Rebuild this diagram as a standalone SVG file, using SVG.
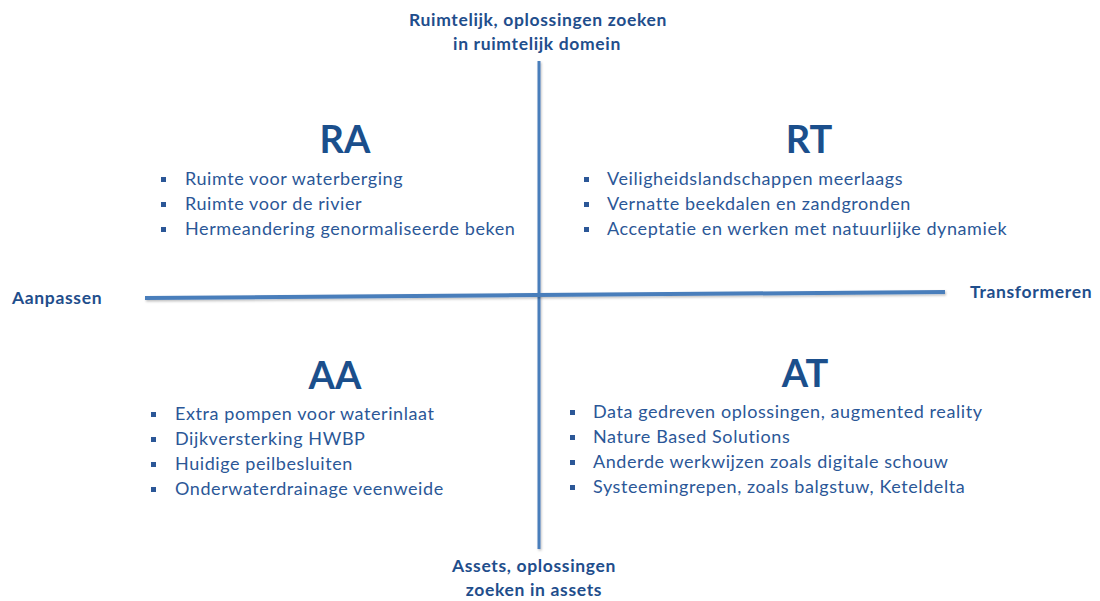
<svg xmlns="http://www.w3.org/2000/svg" width="1100" height="601" viewBox="0 0 1100 601">
<defs>
<style>
.axis-label{font-family:Lato,"Liberation Sans",sans-serif;font-weight:700;font-size:17.5px;letter-spacing:0.65px;fill:#1f4e8c}
.head{font-family:Lato,"Liberation Sans",sans-serif;font-weight:700;font-size:38px;fill:#1b4f8c;text-anchor:middle}
.item{font-family:Lato,"Liberation Sans",sans-serif;font-size:18px;letter-spacing:0.58px;fill:#2b5797}
.bullet{fill:#2b5797}
.axis{stroke:#4a7ebb;fill:none;stroke-linecap:butt}
</style>
<filter id="sh" filterUnits="userSpaceOnUse" x="0" y="0" width="1100" height="601">
<feDropShadow dx="1" dy="1.5" stdDeviation="1" flood-color="#000" flood-opacity="0.25"/>
</filter>
</defs>
<rect width="1100" height="601" fill="#ffffff"/>
<g id="connectors">
<line class="axis" x1="539" y1="61" x2="539" y2="549" stroke-width="3" filter="url(#sh)"/>
<line class="axis" x1="145" y1="298" x2="945" y2="292" stroke-width="4" filter="url(#sh)"/>
</g>
<g id="label-top">
<text class="axis-label" x="538" y="26" text-anchor="middle">Ruimtelijk, oplossingen zoeken</text>
<text class="axis-label" x="537" y="50" text-anchor="middle">in ruimtelijk domein</text>
</g>
<g id="label-bottom">
<text class="axis-label" x="534" y="572" text-anchor="middle">Assets, oplossingen</text>
<text class="axis-label" x="534" y="596" text-anchor="middle">zoeken in assets</text>
</g>
<g id="label-left">
<text class="axis-label" x="12" y="304">Aanpassen</text>
</g>
<g id="label-right">
<text class="axis-label" x="970" y="298">Transformeren</text>
</g>
<g id="RA">
<text class="head" x="345" y="153">RA</text>
<rect class="bullet" x="161" y="177" width="5" height="5"/>
<rect class="bullet" x="161" y="202" width="5" height="5"/>
<rect class="bullet" x="161" y="227" width="5" height="5"/>
<text class="item" x="185" y="185">Ruimte voor waterberging</text>
<text class="item" x="185" y="210">Ruimte voor de rivier</text>
<text class="item" x="185" y="235">Hermeandering genormaliseerde beken</text>
</g>
<g id="RT">
<text class="head" x="809" y="153">RT</text>
<rect class="bullet" x="584" y="177" width="5" height="5"/>
<rect class="bullet" x="584" y="202" width="5" height="5"/>
<rect class="bullet" x="584" y="227" width="5" height="5"/>
<text class="item" x="607" y="185">Veiligheidslandschappen meerlaags</text>
<text class="item" x="607" y="210">Vernatte beekdalen en zandgronden</text>
<text class="item" x="607" y="235">Acceptatie en werken met natuurlijke dynamiek</text>
</g>
<g id="AA">
<text class="head" x="335" y="389">AA</text>
<rect class="bullet" x="151" y="412" width="5" height="5"/>
<rect class="bullet" x="151" y="437" width="5" height="5"/>
<rect class="bullet" x="151" y="462" width="5" height="5"/>
<rect class="bullet" x="151" y="487" width="5" height="5"/>
<text class="item" x="175" y="420">Extra pompen voor waterinlaat</text>
<text class="item" x="175" y="445">Dijkversterking HWBP</text>
<text class="item" x="175" y="470">Huidige peilbesluiten</text>
<text class="item" x="175" y="495">Onderwaterdrainage veenweide</text>
</g>
<g id="AT">
<text class="head" x="805" y="387">AT</text>
<rect class="bullet" x="570" y="410" width="5" height="5"/>
<rect class="bullet" x="570" y="435" width="5" height="5"/>
<rect class="bullet" x="570" y="460" width="5" height="5"/>
<rect class="bullet" x="570" y="485" width="5" height="5"/>
<text class="item" x="593" y="418">Data gedreven oplossingen, augmented reality</text>
<text class="item" x="593" y="443">Nature Based Solutions</text>
<text class="item" x="593" y="468">Anderde werkwijzen zoals digitale schouw</text>
<text class="item" x="593" y="493">Systeemingrepen, zoals balgstuw, Keteldelta</text>
</g>
</svg>
